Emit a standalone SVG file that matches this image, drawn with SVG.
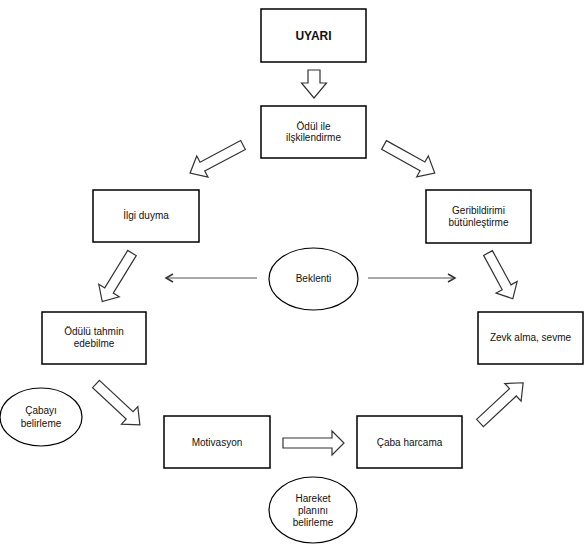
<svg xmlns="http://www.w3.org/2000/svg" width="587" height="547" viewBox="0 0 587 547">
<style>
.box{fill:#fff;stroke:#000;stroke-width:1.5}
.ell{fill:#fff;stroke:#000;stroke-width:1.2}
.t{font-family:"Liberation Sans",Arial,sans-serif;font-size:10px;fill:#111;text-anchor:middle}
.b{font-weight:bold;font-size:12px}
.ba{fill:#fff;stroke:#333;stroke-width:1.2;stroke-linejoin:miter}
.ln{fill:none;stroke:#555;stroke-width:1.2}
</style>
<defs>
<marker id="chev" markerWidth="10" markerHeight="10" refX="8" refY="5" orient="auto" markerUnits="userSpaceOnUse">
<path d="M1,1 L8,5 L1,9" fill="none" stroke="#333" stroke-width="1.5"/>
</marker>
</defs>
<rect width="587" height="547" fill="#fff"/>
<g id="connectors">
<path class="ba" transform="translate(314,70) rotate(90)" d="M0,-6 H13 V-12.5 L28,0 L13,12.5 V6 H0 Z"/>
<path class="ba" transform="translate(243,145) rotate(152)" d="M0,-5 H46 V-12 L60,0 L46,12 V5 H0 Z"/>
<path class="ba" transform="translate(384,145) rotate(29)" d="M0,-5 H44 V-12 L58,0 L44,12 V5 H0 Z"/>
<path class="ba" transform="translate(132,253) rotate(121.5)" d="M0,-5 H44 V-12 L57,0 L44,12 V5 H0 Z"/>
<path class="ba" transform="translate(488,253) rotate(61.5)" d="M0,-5 H39 V-12 L52,0 L39,12 V5 H0 Z"/>
<path class="ba" transform="translate(96,384) rotate(43)" d="M0,-5 H46 V-12 L60,0 L46,12 V5 H0 Z"/>
<path class="ba" transform="translate(480,423) rotate(-43)" d="M0,-5 H45 V-12 L59,0 L45,12 V5 H0 Z"/>
<path class="ba" transform="translate(283,443)" d="M0,-5 H49 V-12 L61,0 L49,12 V5 H0 Z"/>
<line class="ln" x1="257" y1="278" x2="166" y2="278" marker-end="url(#chev)"/>
<line class="ln" x1="368" y1="278" x2="455" y2="278" marker-end="url(#chev)"/>
</g>
<g id="uyari"><rect class="box" x="261" y="9" width="105" height="53"/><text class="t b" x="313.5" y="40">UYARI</text></g>
<g id="odul-ile"><rect class="box" x="261" y="106" width="105" height="52"/><text class="t" x="313.5" y="130">Ödül ile</text><text class="t" x="313.5" y="141">ilşkilendirme</text></g>
<g id="ilgi"><rect class="box" x="93" y="190" width="106" height="52"/><text class="t" x="146" y="219">İlgi duyma</text></g>
<g id="geribildirim"><rect class="box" x="426" y="190" width="105" height="53"/><text class="t" x="478.5" y="214">Geribildirimi</text><text class="t" x="478.5" y="226">bütünleştirme</text></g>
<g id="odulu"><rect class="box" x="42" y="312" width="104" height="52"/><text class="t" x="94" y="335">Ödülü tahmin</text><text class="t" x="94" y="347">edebilme</text></g>
<g id="zevk"><rect class="box" x="478" y="312" width="105" height="52"/><text class="t" x="530.5" y="341">Zevk alma, sevme</text></g>
<g id="beklenti"><ellipse class="ell" cx="313.5" cy="279" rx="44.5" ry="31"/><text class="t" x="313.5" y="282">Beklenti</text></g>
<g id="cabayi"><ellipse class="ell" cx="41" cy="417" rx="41" ry="29"/><text class="t" x="41" y="414">Çabayı</text><text class="t" x="41" y="427">belirleme</text></g>
<g id="motivasyon"><rect class="box" x="164" y="416" width="106" height="52"/><text class="t" x="217" y="446">Motivasyon</text></g>
<g id="caba"><rect class="box" x="357" y="416" width="105" height="52"/><text class="t" x="409.5" y="446">Çaba harcama</text></g>
<g id="hareket"><ellipse class="ell" cx="313" cy="510" rx="44" ry="33"/><text class="t" x="313" y="502">Hareket</text><text class="t" x="313" y="514">planını</text><text class="t" x="313" y="526">belirleme</text></g>
</svg>
